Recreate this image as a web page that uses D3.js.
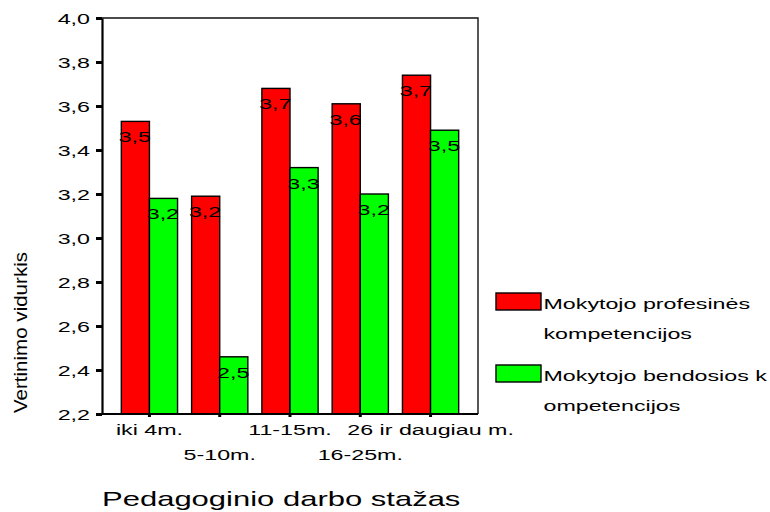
<!DOCTYPE html>
<html>
<head>
<meta charset="utf-8">
<script src="https://cdn.jsdelivr.net/npm/d3@7"></script>
<style>
  html, body { margin: 0; padding: 0; background: #fff; }
  svg { display: block; }
  text { font-family: "Liberation Sans", Arial, sans-serif; fill: #000; }
</style>
</head>
<body>
<svg id="chart" width="770" height="512"></svg>
<script>
// Experience groups (x categories)
const categories = ["iki 4m.", "5-10m.", "11-15m.", "16-25m.", "26 ir daugiau m."];
// Series names (legend, each split over two lines)
const seriesNames = [
  ["Mokytojo profesinės", "kompetencijos"],
  ["Mokytojo bendosios k", "ompetencijos"]
];
// Mean scores per category
const professional = [3.53, 3.19, 3.68, 3.61, 3.74];
const general      = [3.18, 2.46, 3.32, 3.20, 3.49];
// Y axis ticks
const yTicks = [2.2, 2.4, 2.6, 2.8, 3.0, 3.2, 3.4, 3.6, 3.8, 4.0];
const xTitle = "Pedagoginio darbo stažas";
const yTitle = "Vertinimo vidurkis";

const colors = ["#ff0000", "#00ff00"];
const SX = 1.55;               // horizontal text stretch
const fmt = v => d3.format(".1f")(v).replace(".", ",");

const svg = d3.select("#chart");
const plotL = 102, plotR = 478, plotT = 18, plotB = 414;

const y = d3.scaleLinear().domain([2.2, 4.0]).range([plotB, plotT]);
const x = d3.scaleBand().domain(categories).range([plotL, plotR])
  .paddingInner(0.2).paddingOuter(0.275);
const xs = d3.scaleBand().domain([0, 1]).range([0, x.bandwidth()]);

const stretch = (sel, tx, ty) => sel.attr("x", 0).attr("y", 0)
  .attr("transform", (d, i) => `translate(${tx(d, i)},${ty(d, i)}) scale(${SX},1)`);

// frame (top and right)
svg.append("path")
  .attr("d", `M${plotL},${plotT}H${plotR}V${plotB}`)
  .attr("fill", "none").attr("stroke", "#111").attr("stroke-width", 1.4);

// bars
const rows = categories.map((c, i) => ({ c, vals: [professional[i], general[i]] }));
const groups = svg.selectAll("g.grp").data(rows).join("g")
  .attr("class", "grp")
  .attr("transform", d => `translate(${x(d.c)},0)`);

groups.selectAll("rect").data(d => d.vals).join("rect")
  .attr("x", (d, i) => xs(i))
  .attr("y", d => y(d))
  .attr("width", xs.bandwidth())
  .attr("height", d => y(2.2) - y(d))
  .attr("fill", (d, i) => colors[i])
  .attr("stroke", "#000").attr("stroke-width", 1.4);

groups.selectAll("text").data(d => d.vals).join("text")
  .text(d => fmt(d))
  .attr("font-size", 15)
  .attr("text-anchor", "end")
  .call(stretch, (d, i) => xs(i) + xs.bandwidth() + 1.5, d => y(d) + 21);

// y axis
const yAxis = svg.append("g")
  .attr("transform", `translate(${plotL},0)`)
  .call(d3.axisLeft(y).tickValues(yTicks).tickFormat(fmt).tickSize(6).tickSizeOuter(0));
yAxis.attr("font-family", null);
yAxis.select(".domain").attr("stroke", "#000").attr("stroke-width", 2.2);
yAxis.selectAll(".tick line").attr("stroke", "#000").attr("stroke-width", 3);
yAxis.selectAll(".tick text")
  .attr("font-size", 15).attr("dy", null).attr("text-anchor", "end")
  .attr("x", 0).attr("y", 0)
  .attr("transform", `translate(-12,5.5) scale(${SX},1)`);

// x axis
const xAxis = svg.append("g")
  .attr("transform", `translate(0,${plotB})`)
  .call(d3.axisBottom(x).tickSize(3).tickSizeOuter(0));
xAxis.attr("font-family", null);
xAxis.select(".domain").attr("stroke", "#000").attr("stroke-width", 1.8)
  .attr("d", `M${plotL},0H${plotR}`);
xAxis.selectAll(".tick line").attr("stroke", "#000").attr("stroke-width", 3);
xAxis.selectAll(".tick text")
  .attr("font-size", 15).attr("dy", null)
  .attr("x", 0).attr("y", 0)
  .attr("transform", (d, i) => `translate(0,${i % 2 === 0 ? 21 : 46}) scale(${SX},1)`);

// axis titles
svg.append("text")
  .text(xTitle)
  .attr("font-size", 20)
  .attr("text-anchor", "start")
  .attr("transform", `translate(102,506) scale(${SX},1)`);

svg.append("text")
  .text(yTitle)
  .attr("font-size", 18.5)
  .attr("text-anchor", "start")
  .attr("textLength", 161)
  .attr("lengthAdjust", "spacingAndGlyphs")
  .attr("transform", "translate(27,413) rotate(-90)");

// legend
const legend = svg.append("g");
const legY = [293, 365];
seriesNames.forEach((lines, i) => {
  legend.append("rect")
    .attr("x", 496).attr("y", legY[i])
    .attr("width", 45).attr("height", 17)
    .attr("fill", colors[i]).attr("stroke", "#000").attr("stroke-width", 1.4);
  lines.forEach((t, j) => {
    legend.append("text")
      .text(t)
      .attr("font-size", 15)
      .attr("transform", `translate(543.5,${legY[i] + 15.5 + j * 30}) scale(${SX},1)`);
  });
});
</script>
</body>
</html>
